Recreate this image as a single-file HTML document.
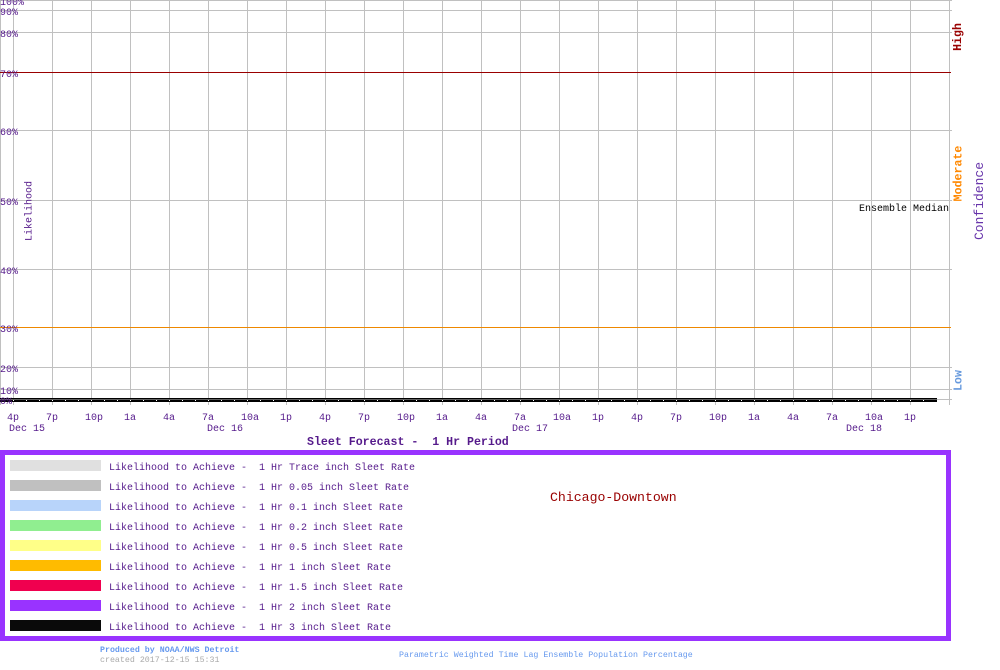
<!DOCTYPE html>
<html><head><meta charset="utf-8"><style>
html,body{margin:0;padding:0;background:#fff;}
svg{display:block;}
text{font-family:"Liberation Mono",monospace;white-space:pre;}
</style></head><body>
<svg width="1000" height="670" viewBox="0 0 1000 670" xmlns="http://www.w3.org/2000/svg" shape-rendering="crispEdges">
<rect x="0" y="0" width="1000" height="670" fill="#fff"/>
<!-- vertical grid -->
<g stroke="#c0c0c0" stroke-width="1">
<line x1="0.5" y1="0" x2="0.5" y2="405"/>
<line x1="13.5" y1="0" x2="13.5" y2="405"/><line x1="52.5" y1="0" x2="52.5" y2="405"/><line x1="91.5" y1="0" x2="91.5" y2="405"/><line x1="130.5" y1="0" x2="130.5" y2="405"/><line x1="169.5" y1="0" x2="169.5" y2="405"/><line x1="208.5" y1="0" x2="208.5" y2="405"/><line x1="247.5" y1="0" x2="247.5" y2="405"/><line x1="286.5" y1="0" x2="286.5" y2="405"/><line x1="325.5" y1="0" x2="325.5" y2="405"/><line x1="364.5" y1="0" x2="364.5" y2="405"/><line x1="403.5" y1="0" x2="403.5" y2="405"/><line x1="442.5" y1="0" x2="442.5" y2="405"/><line x1="481.5" y1="0" x2="481.5" y2="405"/><line x1="520.5" y1="0" x2="520.5" y2="405"/><line x1="559.5" y1="0" x2="559.5" y2="405"/><line x1="598.5" y1="0" x2="598.5" y2="405"/><line x1="637.5" y1="0" x2="637.5" y2="405"/><line x1="676.5" y1="0" x2="676.5" y2="405"/><line x1="715.5" y1="0" x2="715.5" y2="405"/><line x1="754.5" y1="0" x2="754.5" y2="405"/><line x1="793.5" y1="0" x2="793.5" y2="405"/><line x1="832.5" y1="0" x2="832.5" y2="405"/><line x1="871.5" y1="0" x2="871.5" y2="405"/><line x1="910.5" y1="0" x2="910.5" y2="405"/><line x1="949.5" y1="0" x2="949.5" y2="405"/>
</g>
<!-- horizontal grid -->
<g stroke="#c0c0c0" stroke-width="1">
<line x1="0" y1="0.5" x2="952" y2="0.5"/>
<line x1="0" y1="10.5" x2="952" y2="10.5"/>
<line x1="0" y1="32.5" x2="952" y2="32.5"/>
<line x1="0" y1="130.5" x2="952" y2="130.5"/>
<line x1="0" y1="200.5" x2="952" y2="200.5"/>
<line x1="0" y1="269.5" x2="952" y2="269.5"/>
<line x1="0" y1="367.5" x2="952" y2="367.5"/>
<line x1="0" y1="389.5" x2="952" y2="389.5"/>
<line x1="0" y1="399.5" x2="952" y2="399.5"/>
</g>
<line x1="0" y1="72.5" x2="951" y2="72.5" stroke="#990000" stroke-width="1"/>
<line x1="0" y1="327.5" x2="951" y2="327.5" stroke="#ee8800" stroke-width="1"/>
<!-- zero line -->
<rect x="0" y="398" width="937" height="1" fill="#000"/>
<rect x="0" y="399.6" width="937" height="2.6" fill="#000"/>
<g fill="#fff">
<rect x="13" y="400" width="1" height="1"/><rect x="26" y="400" width="1" height="1"/><rect x="39" y="400" width="1" height="1"/><rect x="52" y="400" width="1" height="1"/><rect x="65" y="400" width="1" height="1"/><rect x="78" y="400" width="1" height="1"/><rect x="91" y="400" width="1" height="1"/><rect x="104" y="400" width="1" height="1"/><rect x="117" y="400" width="1" height="1"/><rect x="130" y="400" width="1" height="1"/><rect x="143" y="400" width="1" height="1"/><rect x="156" y="400" width="1" height="1"/><rect x="169" y="400" width="1" height="1"/><rect x="182" y="400" width="1" height="1"/><rect x="195" y="400" width="1" height="1"/><rect x="208" y="400" width="1" height="1"/><rect x="221" y="400" width="1" height="1"/><rect x="234" y="400" width="1" height="1"/><rect x="247" y="400" width="1" height="1"/><rect x="260" y="400" width="1" height="1"/><rect x="273" y="400" width="1" height="1"/><rect x="286" y="400" width="1" height="1"/><rect x="299" y="400" width="1" height="1"/><rect x="312" y="400" width="1" height="1"/><rect x="325" y="400" width="1" height="1"/><rect x="338" y="400" width="1" height="1"/><rect x="351" y="400" width="1" height="1"/><rect x="364" y="400" width="1" height="1"/><rect x="377" y="400" width="1" height="1"/><rect x="390" y="400" width="1" height="1"/><rect x="403" y="400" width="1" height="1"/><rect x="416" y="400" width="1" height="1"/><rect x="429" y="400" width="1" height="1"/><rect x="442" y="400" width="1" height="1"/><rect x="455" y="400" width="1" height="1"/><rect x="468" y="400" width="1" height="1"/><rect x="481" y="400" width="1" height="1"/><rect x="494" y="400" width="1" height="1"/><rect x="507" y="400" width="1" height="1"/><rect x="520" y="400" width="1" height="1"/><rect x="533" y="400" width="1" height="1"/><rect x="546" y="400" width="1" height="1"/><rect x="559" y="400" width="1" height="1"/><rect x="572" y="400" width="1" height="1"/><rect x="585" y="400" width="1" height="1"/><rect x="598" y="400" width="1" height="1"/><rect x="611" y="400" width="1" height="1"/><rect x="624" y="400" width="1" height="1"/><rect x="637" y="400" width="1" height="1"/><rect x="650" y="400" width="1" height="1"/><rect x="663" y="400" width="1" height="1"/><rect x="676" y="400" width="1" height="1"/><rect x="689" y="400" width="1" height="1"/><rect x="702" y="400" width="1" height="1"/><rect x="715" y="400" width="1" height="1"/><rect x="728" y="400" width="1" height="1"/><rect x="741" y="400" width="1" height="1"/><rect x="754" y="400" width="1" height="1"/><rect x="767" y="400" width="1" height="1"/><rect x="780" y="400" width="1" height="1"/><rect x="793" y="400" width="1" height="1"/><rect x="806" y="400" width="1" height="1"/><rect x="819" y="400" width="1" height="1"/><rect x="832" y="400" width="1" height="1"/><rect x="845" y="400" width="1" height="1"/><rect x="858" y="400" width="1" height="1"/><rect x="871" y="400" width="1" height="1"/><rect x="884" y="400" width="1" height="1"/><rect x="897" y="400" width="1" height="1"/><rect x="910" y="400" width="1" height="1"/><rect x="923" y="400" width="1" height="1"/>
</g>
<!-- y labels -->
<g fill="#551a8b" font-size="10">
<text x="0" y="5">100%</text>
<text x="0" y="15">90%</text>
<text x="0" y="37">80%</text>
<text x="0" y="77">70%</text>
<text x="0" y="135">60%</text>
<text x="0" y="205">50%</text>
<text x="0" y="274">40%</text>
<text x="0" y="332">30%</text>
<text x="0" y="372">20%</text>
<text x="0" y="394">10%</text>
<text x="0" y="404">0%</text>
</g>
<text transform="translate(31.5,211) rotate(-90)" text-anchor="middle" fill="#551a8b" font-size="10">Likelihood</text>
<!-- x labels -->
<g fill="#551a8b" font-size="10">
<text x="7" y="420">4p</text><text x="46" y="420">7p</text><text x="85" y="420">10p</text><text x="124" y="420">1a</text><text x="163" y="420">4a</text><text x="202" y="420">7a</text><text x="241" y="420">10a</text><text x="280" y="420">1p</text>
<text x="319" y="420">4p</text><text x="358" y="420">7p</text><text x="397" y="420">10p</text><text x="436" y="420">1a</text><text x="475" y="420">4a</text><text x="514" y="420">7a</text><text x="553" y="420">10a</text><text x="592" y="420">1p</text>
<text x="631" y="420">4p</text><text x="670" y="420">7p</text><text x="709" y="420">10p</text><text x="748" y="420">1a</text><text x="787" y="420">4a</text><text x="826" y="420">7a</text><text x="865" y="420">10a</text><text x="904" y="420">1p</text>
<text x="9" y="431">Dec 15</text>
<text x="207" y="431">Dec 16</text>
<text x="512" y="431">Dec 17</text>
<text x="846" y="431">Dec 18</text>
</g>
<text x="307" y="445" fill="#551a8b" font-size="11.6" font-weight="bold">Sleet Forecast -  1 Hr Period</text>
<!-- right side -->
<text x="859" y="211" fill="#000" font-size="10">Ensemble Median</text>
<text transform="translate(961,37) rotate(-90)" text-anchor="middle" fill="#990000" font-size="11.6" font-weight="bold">High</text>
<text transform="translate(961.5,173.5) rotate(-90)" text-anchor="middle" fill="#ff8800" font-size="11.6" font-weight="bold">Moderate</text>
<text transform="translate(961.5,380.5) rotate(-90)" text-anchor="middle" fill="#6699dd" font-size="11.6" font-weight="bold">Low</text>
<text transform="translate(983,201) rotate(-90)" text-anchor="middle" fill="#6633aa" font-size="13">Confidence</text>
<!-- legend box -->
<rect x="2.5" y="452.5" width="946" height="186" fill="none" stroke="#9933ff" stroke-width="5"/>
<rect x="10" y="460" width="91" height="11" fill="#e0e0e0"/>
<rect x="10" y="480" width="91" height="11" fill="#c0c0c0"/>
<rect x="10" y="500" width="91" height="11" fill="#b8d4fa"/>
<rect x="10" y="520" width="91" height="11" fill="#90ee90"/>
<rect x="10" y="540" width="91" height="11" fill="#ffff88"/>
<rect x="10" y="560" width="91" height="11" fill="#ffbb00"/>
<rect x="10" y="580" width="91" height="11" fill="#f0004f"/>
<rect x="10" y="600" width="91" height="11" fill="#9933ff"/>
<rect x="10" y="620" width="91" height="11" fill="#0a0a0a"/>
<g fill="#551a8b" font-size="10">
<text x="109" y="470">Likelihood to Achieve -  1 Hr Trace inch Sleet Rate</text>
<text x="109" y="490">Likelihood to Achieve -  1 Hr 0.05 inch Sleet Rate</text>
<text x="109" y="510">Likelihood to Achieve -  1 Hr 0.1 inch Sleet Rate</text>
<text x="109" y="530">Likelihood to Achieve -  1 Hr 0.2 inch Sleet Rate</text>
<text x="109" y="550">Likelihood to Achieve -  1 Hr 0.5 inch Sleet Rate</text>
<text x="109" y="570">Likelihood to Achieve -  1 Hr 1 inch Sleet Rate</text>
<text x="109" y="590">Likelihood to Achieve -  1 Hr 1.5 inch Sleet Rate</text>
<text x="109" y="610">Likelihood to Achieve -  1 Hr 2 inch Sleet Rate</text>
<text x="109" y="630">Likelihood to Achieve -  1 Hr 3 inch Sleet Rate</text>
</g>
<text x="550" y="501" fill="#990000" font-size="13.2">Chicago-Downtown</text>
<!-- footer -->
<text x="100" y="652" fill="#6699ee" font-size="8.3" font-weight="bold">Produced by NOAA/NWS Detroit</text>
<text x="100" y="662" fill="#aaaaaa" font-size="8.3">created 2017-12-15 15:31</text>
<text x="399" y="657" fill="#6699ee" font-size="8.3">Parametric Weighted Time Lag Ensemble Population Percentage</text>
</svg>
</body></html>
